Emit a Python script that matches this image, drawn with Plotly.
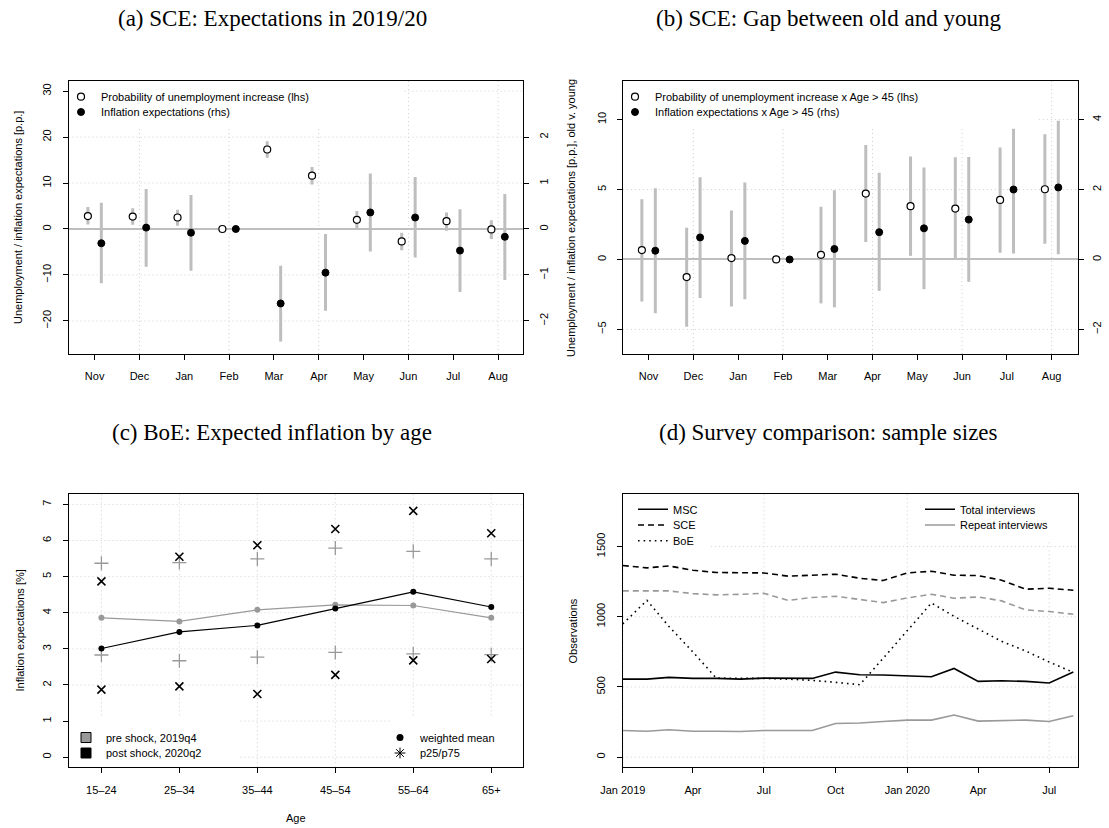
import plotly.graph_objects as go

# ---------------- data ----------------
months = ["Nov", "Dec", "Jan", "Feb", "Mar", "Apr", "May", "Jun", "Jul", "Aug"]

# (a) SCE: Expectations in 2019/20
a_unemp = [2.8, 2.7, 2.5, 0.0, 17.3, 11.6, 2.0, -2.7, 1.7, -0.1]
a_unemp_lo = [1.0, 0.9, 0.7, 0.0, 15.5, 9.7, 0.1, -4.6, -0.4, -2.2]
a_unemp_hi = [4.8, 4.5, 4.2, 0.0, 19.1, 13.5, 3.9, -0.8, 3.6, 1.9]
a_infl = [-0.31, 0.03, -0.08, 0.0, -1.62, -0.95, 0.36, 0.25, -0.47, -0.17]
a_infl_lo = [-1.18, -0.82, -0.91, 0.0, -2.45, -1.78, -0.49, -0.62, -1.37, -1.11]
a_infl_hi = [0.57, 0.87, 0.74, 0.0, -0.80, -0.11, 1.21, 1.13, 0.43, 0.76]

# (b) SCE: Gap between old and young
b_unemp = [0.67, -1.26, 0.10, 0.0, 0.33, 4.71, 3.81, 3.64, 4.26, 5.02]
b_unemp_lo = [-3.0, -4.81, -3.36, 0.0, -3.14, 1.24, 0.26, 0.0, 0.48, 1.12]
b_unemp_hi = [4.31, 2.26, 3.50, 0.0, 3.76, 8.19, 7.36, 7.31, 8.0, 8.95]
b_infl = [0.25, 0.63, 0.53, 0.0, 0.30, 0.78, 0.89, 1.14, 2.0, 2.06]
b_infl_lo = [-1.54, -1.10, -1.14, 0.0, -1.37, -0.90, -0.85, -0.64, 0.17, 0.15]
b_infl_hi = [2.04, 2.35, 2.20, 0.0, 1.98, 2.48, 2.63, 2.93, 3.74, 3.97]

# (c) BoE: Expected inflation by age
ages = ["15–24", "25–34", "35–44", "45–54", "55–64", "65+"]
pre_mean = [3.86, 3.76, 4.08, 4.22, 4.20, 3.86]
post_mean = [3.01, 3.47, 3.65, 4.12, 4.58, 4.16]
pre_p25 = [2.83, 2.67, 2.77, 2.90, 2.86, 2.84]
pre_p75 = [5.37, 5.39, 5.49, 5.79, 5.70, 5.49]
post_p25 = [1.87, 1.96, 1.75, 2.28, 2.68, 2.72]
post_p75 = [4.87, 5.55, 5.87, 6.32, 6.82, 6.20]

# (d) Survey comparison: sample sizes
d_months = ["2019-01-01", "2019-02-01", "2019-03-01", "2019-04-01", "2019-05-01",
            "2019-06-01", "2019-07-01", "2019-08-01", "2019-09-01", "2019-10-01",
            "2019-11-01", "2019-12-01", "2020-01-01", "2020-02-01", "2020-03-01",
            "2020-04-01", "2020-05-01", "2020-06-01", "2020-07-01", "2020-08-01"]
msc_total = [556, 556, 568, 561, 561, 556, 563, 563, 561, 606, 587, 585, 580, 573, 632, 540, 544, 540, 528, 606]
msc_repeat = [190, 185, 195, 185, 185, 183, 190, 190, 190, 240, 243, 254, 264, 264, 300, 257, 262, 264, 254, 295]
sce_total = [1365, 1348, 1362, 1331, 1315, 1315, 1312, 1289, 1298, 1303, 1274, 1258, 1312, 1324, 1296, 1293, 1260, 1196, 1203, 1189]
sce_repeat = [1184, 1184, 1184, 1165, 1156, 1160, 1167, 1117, 1137, 1146, 1125, 1101, 1134, 1160, 1132, 1141, 1113, 1049, 1037, 1018]
boe_total = [949, 1117, 932, 749, 563, 563, 561, 556, 547, 533, 516, 704, 899, 1098, 1003, 915, 825, 756, 678, 604]
d_ticks = ["2019-01-01", "2019-04-01", "2019-07-01", "2019-10-01", "2020-01-01", "2020-04-01", "2020-07-01"]
d_ticktext = ["Jan 2019", "Apr", "Jul", "Oct", "Jan 2020", "Apr", "Jul"]
d_grid = ["2019-01-01", "2019-07-01", "2020-01-01", "2020-07-01"]

# ---------------- styling helpers ----------------
W, H = 1109, 828
def fx(p):
    return p / W
def fy(p):
    return 1 - p / H

SANS = "Liberation Sans, Arial, sans-serif"
SERIF = "Liberation Serif, Times New Roman, serif"
GRID = "#cfcfcf"
ERR = "#bebebe"
GRAY = "#999999"
TF = dict(family=SANS, size=11, color="black")
DOT = "1px,3px"

pos = list(range(1, 11))
off = 0.15
pos_l = [p - off for p in pos]
pos_r = [p + off for p in pos]
age_pos = list(range(1, 7))


def seg(xs, lo, hi):
    X, Y = [], []
    for x, l, h in zip(xs, lo, hi):
        X += [x, x, None]
        Y += [l, h, None]
    return X, Y


fig = go.Figure()
leg_n = [0]
legend_layouts = {}
LEG = dict(bgcolor="rgba(0,0,0,0)", borderwidth=0, font=dict(family=SANS, size=11, color="black"),
           xanchor="left", yanchor="middle", itemclick=False, itemdoubleclick=False)


def new_legend(xpx, ypx):
    leg_n[0] += 1
    name = "legend" if leg_n[0] == 1 else "legend%d" % leg_n[0]
    legend_layouts[name] = dict(LEG, x=fx(xpx), y=fy(ypx))
    return name

# ---------- panel (a) ----------
X, Y = seg(pos_l, a_unemp_lo, a_unemp_hi)
fig.add_trace(go.Scatter(x=X, y=Y, mode="lines", line=dict(color=ERR, width=3),
                         showlegend=False, hoverinfo="skip", xaxis="x", yaxis="y"))
X, Y = seg(pos_r, a_infl_lo, a_infl_hi)
fig.add_trace(go.Scatter(x=X, y=Y, mode="lines", line=dict(color=ERR, width=3),
                         showlegend=False, hoverinfo="skip", xaxis="x", yaxis="y2"))
fig.add_trace(go.Scatter(x=pos_l, y=a_unemp, mode="markers",
                         marker=dict(symbol="circle", size=7, color="white", line=dict(color="black", width=1.2)),
                         name="Probability of unemployment increase (lhs)", legend=new_legend(61, 96.7),
                         xaxis="x", yaxis="y"))
fig.add_trace(go.Scatter(x=pos_r, y=a_infl, mode="markers",
                         marker=dict(symbol="circle", size=7, color="black", line=dict(color="black", width=1)),
                         name="Inflation expectations (rhs)", legend=new_legend(61, 112),
                         xaxis="x", yaxis="y2"))

# ---------- panel (b) ----------
X, Y = seg(pos_l, b_unemp_lo, b_unemp_hi)
fig.add_trace(go.Scatter(x=X, y=Y, mode="lines", line=dict(color=ERR, width=3),
                         showlegend=False, hoverinfo="skip", xaxis="x2", yaxis="y3"))
X, Y = seg(pos_r, b_infl_lo, b_infl_hi)
fig.add_trace(go.Scatter(x=X, y=Y, mode="lines", line=dict(color=ERR, width=3),
                         showlegend=False, hoverinfo="skip", xaxis="x2", yaxis="y4"))
fig.add_trace(go.Scatter(x=pos_l, y=b_unemp, mode="markers",
                         marker=dict(symbol="circle", size=7, color="white", line=dict(color="black", width=1.2)),
                         name="Probability of unemployment increase x Age > 45 (lhs)",
                         legend=new_legend(615, 96.7), xaxis="x2", yaxis="y3"))
fig.add_trace(go.Scatter(x=pos_r, y=b_infl, mode="markers",
                         marker=dict(symbol="circle", size=7, color="black", line=dict(color="black", width=1)),
                         name="Inflation expectations x Age > 45 (rhs)",
                         legend=new_legend(615, 112), xaxis="x2", yaxis="y4"))

# ---------- panel (c) ----------
fig.add_trace(go.Scatter(x=age_pos, y=pre_p75, mode="markers",
                         marker=dict(symbol="cross-thin", size=10, line=dict(color=GRAY, width=1.3)),
                         showlegend=False, xaxis="x3", yaxis="y5"))
fig.add_trace(go.Scatter(x=age_pos, y=pre_p25, mode="markers",
                         marker=dict(symbol="cross-thin", size=10, line=dict(color=GRAY, width=1.3)),
                         showlegend=False, xaxis="x3", yaxis="y5"))
fig.add_trace(go.Scatter(x=age_pos, y=post_p75, mode="markers",
                         marker=dict(symbol="x-thin", size=8, line=dict(color="black", width=1.6)),
                         showlegend=False, xaxis="x3", yaxis="y5"))
fig.add_trace(go.Scatter(x=age_pos, y=post_p25, mode="markers",
                         marker=dict(symbol="x-thin", size=8, line=dict(color="black", width=1.6)),
                         showlegend=False, xaxis="x3", yaxis="y5"))
fig.add_trace(go.Scatter(x=age_pos, y=pre_mean, mode="lines+markers",
                         line=dict(color=GRAY, width=1.2),
                         marker=dict(symbol="circle", size=6, color=GRAY),
                         showlegend=False, xaxis="x3", yaxis="y5"))
fig.add_trace(go.Scatter(x=age_pos, y=post_mean, mode="lines+markers",
                         line=dict(color="black", width=1.2),
                         marker=dict(symbol="circle", size=6, color="black"),
                         showlegend=False, xaxis="x3", yaxis="y5"))
# legend entries (c)
fig.add_trace(go.Scatter(x=[None], y=[None], mode="markers", name="pre shock, 2019q4",
                         marker=dict(symbol="square", size=10, color=GRAY, line=dict(color="black", width=1)),
                         legend=new_legend(66, 737.5), xaxis="x3", yaxis="y5"))
fig.add_trace(go.Scatter(x=[None], y=[None], mode="markers", name="post shock, 2020q2",
                         marker=dict(symbol="square", size=10, color="black", line=dict(color="black", width=1)),
                         legend=new_legend(66, 753), xaxis="x3", yaxis="y5"))
fig.add_trace(go.Scatter(x=[None], y=[None], mode="markers", name="weighted mean",
                         marker=dict(symbol="circle", size=7, color="black"),
                         legend=new_legend(380, 737.5), xaxis="x3", yaxis="y5"))
fig.add_trace(go.Scatter(x=[None], y=[None], mode="markers", name="p25/p75",
                         marker=dict(symbol="asterisk-open", size=9, color="black",
                                     line=dict(color="black", width=1)),
                         legend=new_legend(380, 753), xaxis="x3", yaxis="y5"))

# ---------- panel (d) ----------
fig.add_trace(go.Scatter(x=d_months, y=msc_repeat, mode="lines", line=dict(color=GRAY, width=1.6),
                         showlegend=False, xaxis="x4", yaxis="y6"))
fig.add_trace(go.Scatter(x=d_months, y=sce_repeat, mode="lines",
                         line=dict(color=GRAY, width=1.6, dash="6px,4px"),
                         showlegend=False, xaxis="x4", yaxis="y6"))
fig.add_trace(go.Scatter(x=d_months, y=msc_total, mode="lines", line=dict(color="black", width=1.6),
                         name="MSC", legend=new_legend(633, 509.3), xaxis="x4", yaxis="y6"))
fig.add_trace(go.Scatter(x=d_months, y=sce_total, mode="lines",
                         line=dict(color="black", width=1.6, dash="6px,4px"),
                         name="SCE", legend=new_legend(633, 525), xaxis="x4", yaxis="y6"))
fig.add_trace(go.Scatter(x=d_months, y=boe_total, mode="lines",
                         line=dict(color="black", width=1.6, dash="1.6px,4px"),
                         name="BoE", legend=new_legend(633, 540.7), xaxis="x4", yaxis="y6"))
fig.add_trace(go.Scatter(x=[None], y=[None], mode="lines", line=dict(color="black", width=1.6),
                         name="Total interviews", legend=new_legend(920, 509.3), xaxis="x4", yaxis="y6"))
fig.add_trace(go.Scatter(x=[None], y=[None], mode="lines", line=dict(color=GRAY, width=1.6),
                         name="Repeat interviews", legend=new_legend(920, 525), xaxis="x4", yaxis="y6"))

# ---------------- axes ----------------
def base_axis(**kw):
    d = dict(showline=True, linecolor="black", linewidth=1, mirror=True,
             ticks="outside", ticklen=5, tickwidth=1, tickcolor="black",
             tickfont=TF, zeroline=False, showgrid=False, fixedrange=True,
             automargin=False)
    d.update(kw)
    return d

AX_L, AX_R = fx(68.6), fx(523.2)
BX_L, BX_R = fx(622.8), fx(1078)
TOP_Y = [fy(354), fy(81)]
BOT_Y = [fy(767.3), fy(494.3)]

layout = dict(
    width=W, height=H, margin=dict(l=0, r=0, t=0, b=0, pad=0, autoexpand=False),
    paper_bgcolor="white", plot_bgcolor="white", showlegend=True,
    font=dict(family=SANS, size=11, color="black"),
    # (a)
    xaxis=base_axis(domain=[AX_L, AX_R], range=[0.42, 10.56], anchor="y",
                    tickmode="array", tickvals=pos, ticktext=months, ticklabelstandoff=7),
    yaxis=base_axis(domain=TOP_Y, range=[-27.2, 32.2], anchor="x",
                    tickmode="array", tickvals=[-20, -10, 0, 10, 20, 30], tickangle=-90,
                    ticklabelstandoff=7,
                    zeroline=True, zerolinecolor=ERR, zerolinewidth=1.5),
    yaxis2=base_axis(overlaying="y", side="right", range=[-2.72, 3.22], anchor="x",
                     tickmode="array", tickvals=[-2, -1, 0, 1, 2], tickangle=-90,
                     ticklabelstandoff=6, mirror=False),
    # (b)
    xaxis2=base_axis(domain=[BX_L, BX_R], range=[0.424, 10.59], anchor="y3",
                     tickmode="array", tickvals=pos, ticktext=months, ticklabelstandoff=7),
    yaxis3=base_axis(domain=TOP_Y, range=[-6.76, 12.76], anchor="x2",
                     tickmode="array", tickvals=[-5, 0, 5, 10], tickangle=-90,
                     ticklabelstandoff=6,
                     zeroline=True, zerolinecolor=ERR, zerolinewidth=1.5),
    yaxis4=base_axis(overlaying="y3", side="right", range=[-2.704, 5.104], anchor="x2",
                     tickmode="array", tickvals=[-2, 0, 2, 4], tickangle=-90,
                     ticklabelstandoff=4, mirror=False),
    # (c)
    xaxis3=base_axis(domain=[AX_L, AX_R], range=[0.579, 6.41], anchor="y5",
                     tickmode="array", tickvals=age_pos, ticktext=ages, ticklabelstandoff=7),
    yaxis5=base_axis(domain=BOT_Y, range=[-0.28, 7.28], anchor="x3",
                     tickmode="array", tickvals=list(range(0, 8)), tickangle=-90,
                     ticklabelstandoff=7),
    # (d)
    xaxis4=base_axis(domain=[BX_L, BX_R], type="date", range=["2019-01-01", "2020-08-07"], anchor="y6",
                     tickmode="array", tickvals=d_ticks, ticktext=d_ticktext, ticklabelstandoff=7),
    yaxis6=base_axis(domain=BOT_Y, range=[-72, 1872], anchor="x4",
                     tickmode="array", tickvals=[0, 500, 1000, 1500], tickangle=-90,
                     ticklabelstandoff=7),
)
layout.update(legend_layouts)
fig.update_layout(**layout)

# ---------------- grid lines (R grid(): light grey, dotted) ----------------
shapes = []
def vgrid(xr, yr, vals):
    for v in vals:
        shapes.append(dict(type="line", xref=xr, yref=yr + " domain", x0=v, x1=v, y0=0, y1=1,
                           line=dict(color=GRID, width=1, dash=DOT), layer="below"))
def hgrid(xr, yr, vals):
    for v in vals:
        shapes.append(dict(type="line", xref=xr + " domain", yref=yr, x0=0, x1=1, y0=v, y1=v,
                           line=dict(color=GRID, width=1, dash=DOT), layer="below"))
def cover(xr, yr, x0, x1, y0, y1):
    shapes.append(dict(type="rect", xref=xr + " domain", yref=yr + " domain",
                       x0=x0, x1=x1, y0=y0, y1=y1, fillcolor="white",
                       line=dict(width=0), layer="below"))

vgrid("x", "y", [2, 4, 6, 8, 10])
hgrid("x", "y", [-20, -10, 10, 20, 30])
vgrid("x2", "y3", [2, 4, 6, 8, 10])
hgrid("x2", "y3", [-5, 5, 10])
vgrid("x3", "y5", age_pos)
hgrid("x3", "y5", list(range(0, 8)))
vgrid("x4", "y6", d_grid)
hgrid("x4", "y6", [0, 500, 1000, 1500])

# white legend backgrounds hiding the grid, as in the reference
cover("x", "y", 0, 0.733, 0.828, 1)
cover("x2", "y3", 0, 0.908, 0.828, 1)
cover("x3", "y5", 0, 0.375, 0, 0.185)
cover("x3", "y5", 0.712, 1, 0, 0.185)
cover("x4", "y6", 0, 0.193, 0.796, 1)
cover("x4", "y6", 0.642, 1, 0.828, 1)

# ---------------- text annotations ----------------
ann = []
def title(text, x, y):
    ann.append(dict(text=text, x=fx(x), y=fy(y), xref="paper", yref="paper",
                    xanchor="center", yanchor="middle", showarrow=False,
                    font=dict(family=SERIF, size=23, color="black")))

title("(a) SCE: Expectations in 2019/20", 272, 19)
title("(b) SCE: Gap between old and young", 828, 19)
title("(c) BoE: Expected inflation by age", 272, 432)
title("(d) Survey comparison: sample sizes", 828, 432)

def ytitle(text, x, y):
    ann.append(dict(text=text, x=fx(x), y=fy(y), xref="paper", yref="paper",
                    xanchor="center", yanchor="middle", textangle=-90, showarrow=False,
                    font=dict(family=SANS, size=11, color="black")))

ytitle("Unemployment / inflation expectations [p.p.]", 18, 218)
ytitle("Unemployment / inflation expectations [p.p.], old v. young", 571, 218)
ytitle("Inflation expectations [%]", 19.5, 631)
ytitle("Observations", 572.5, 631)
ann.append(dict(text="Age", x=fx(296), y=fy(818), xref="paper", yref="paper",
                xanchor="center", yanchor="middle", showarrow=False,
                font=dict(family=SANS, size=11, color="black")))
fig.update_layout(annotations=ann, shapes=shapes)

fig.write_html("out.html", config={"displayModeBar": False},
               post_script="document.body.style.margin='0px';document.body.style.padding='0px';")
